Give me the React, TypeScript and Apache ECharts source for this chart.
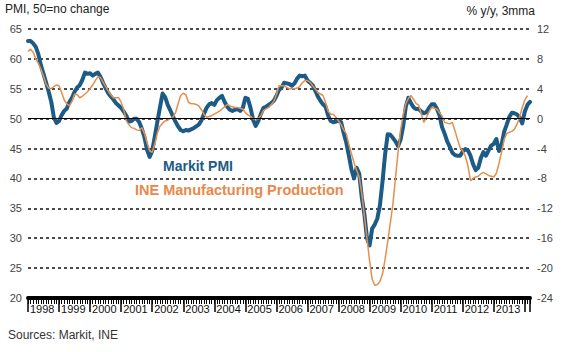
import React, { useEffect, useRef } from "react";
import * as echarts from "echarts";

const years = [1998, 1999, 2000, 2001, 2002, 2003, 2004, 2005, 2006, 2007, 2008, 2009, 2010, 2011, 2012, 2013, 2014];
const lastYearMonths = 3; // Jan-Mar 2014

const pmi = [
  63.0, 63.0, 62.6, 62.0, 60.8, 58.9, 57.5, 56.0, 54.5, 52.8, 50.2, 49.3,
  49.6, 50.6, 51.3, 51.7, 52.8, 53.5, 54.5, 55.2, 55.6, 56.5, 57.7, 57.5,
  57.6, 57.2, 57.5, 57.7, 57.0, 56.0, 55.1, 54.3, 53.7, 53.2, 52.6, 52.2,
  51.8, 51.2, 50.5, 49.5, 49.6, 50.0, 50.0, 49.4, 48.3, 46.9, 44.8, 43.6,
  44.6, 47.0, 49.5, 51.9, 54.2, 53.6, 52.3, 51.4, 50.4, 49.5, 48.7, 48.1,
  47.9, 48.1, 48.0, 48.2, 48.4, 48.7, 49.0, 49.7, 50.8, 51.8, 52.4, 52.6,
  52.3, 53.1, 53.5, 53.8, 52.8, 52.0, 51.5, 51.3, 51.5, 51.6, 51.3, 51.8,
  53.5, 53.3, 51.8, 49.8, 48.8, 49.6, 50.8, 51.8, 52.0, 52.3, 52.6, 53.0,
  53.8, 54.8, 55.2, 56.0, 55.9, 55.8, 55.5, 55.9, 56.7, 57.2, 57.1, 57.2,
  56.4, 56.0, 55.6, 54.7, 53.7, 53.0, 52.4, 52.0, 50.5, 49.6, 49.4, 49.5,
  49.7, 49.4, 47.6, 46.0, 43.8, 41.5, 40.0, 41.8, 40.8, 36.8, 34.0, 30.0,
  28.8, 31.6, 32.3, 33.3, 35.5, 39.5, 44.0, 47.4, 47.3, 46.8, 46.2, 45.4,
  46.5, 48.8, 52.0, 53.5, 52.6, 51.9, 51.6, 51.6, 51.2, 50.9, 51.1, 51.8,
  52.4, 52.4, 51.7, 50.6, 48.6, 47.5, 46.2, 45.3, 44.3, 43.9, 43.8, 43.8,
  44.5, 44.9, 44.7, 43.8, 42.4, 41.4, 41.8, 43.4, 44.4, 43.8, 44.7, 45.5,
  45.8, 46.6, 44.6, 45.6, 47.8, 49.0, 50.3, 51.0, 50.9, 50.7, 50.2, 49.2,
  51.2, 52.3, 52.8,
];

const ine = [
  9.0, 9.3, 8.9, 8.0, 7.4, 6.6, 5.7, 4.6, 4.1, 4.0, 4.3, 4.5,
  4.4, 3.5, 2.5, 2.0, 1.7, 2.3, 3.3, 3.2, 2.8, 3.0, 3.3, 3.6,
  4.0, 4.5, 5.1, 5.6, 5.5, 4.9, 4.3, 3.7, 3.2, 2.8, 2.8, 2.8,
  2.2, 1.2, -0.3, -0.8, -1.2, -1.3, -1.5, -1.6, -1.2, -2.0, -3.2, -4.3,
  -4.5, -3.4, -1.9, -1.0, -0.6, -0.3, -0.2, 0.0, 0.2, 0.8, 2.0, 3.1,
  3.4, 3.2, 2.2, 2.0, 2.0, 1.9, 1.7, 1.2, 0.6, 0.2, 0.3, 0.4,
  0.6, 0.8, 1.0, 1.3, 1.6, 1.9, 1.7, 1.6, 1.5, 1.5, 1.4, 1.3,
  0.8, 0.5, 0.3, 0.0, 0.0, 0.0, 0.4, 1.1, 1.3, 1.5, 1.9, 2.3,
  3.2, 4.4, 4.4, 4.4, 4.2, 4.0, 4.0, 4.0, 4.1, 4.3, 4.8, 5.1,
  5.1, 4.9, 4.4, 4.0, 3.5, 3.3, 3.1, 2.2, 1.0, 0.6, 0.6, 0.2,
  -0.3, -0.8, -1.5, -2.0, -3.4, -4.7, -5.9, -6.9, -7.8, -10.0, -13.0, -16.0,
  -19.0, -21.5, -22.3, -22.2, -21.8, -20.8, -18.8, -16.5, -14.0, -11.5, -8.0, -4.5,
  -1.5, 0.5, 2.0, 2.7, 3.1, 2.6, 2.0, 1.8, 0.6, -0.5, 0.2, 0.9,
  1.5, 1.4, 1.3, 0.8, 0.4, -0.5, -0.6, -0.7, -0.5, -1.6, -2.8, -3.9,
  -4.3, -5.0, -6.3, -8.3, -8.0, -7.8, -7.7, -7.4, -7.2, -7.4, -7.6, -7.7,
  -7.8, -7.3, -6.0, -4.5, -2.8, -2.0, -1.8, -1.7, -1.4, -0.7, 0.2, 1.5,
  2.5, 3.1, null,
];

const leftTicks = { min: 20, max: 65, interval: 5 };
const rightTicks = { min: -24, max: 12, interval: 4 };

const months: string[] = [];
years.forEach((y, yi) => {
  const n = yi === years.length - 1 ? lastYearMonths : 12;
  for (let m = 1; m <= n; m++) months.push(`${y}-${String(m).padStart(2, "0")}`);
});

const BLUE = "#1d5b87";
const ORANGE = "#e3904f";
const FONT = "Liberation Sans, Arial, sans-serif";

export default function App() {
  const ref = useRef<HTMLDivElement>(null);
  useEffect(() => {
    document.body.style.margin = "0";
    if (!ref.current) return;
    const chart = echarts.init(ref.current, null, { renderer: "svg" });
    const last = months.length - 1;
    chart.setOption({
      animation: false,
      textStyle: { fontFamily: FONT },
      grid: { left: 28, right: 36, top: 29, bottom: 54 },
      xAxis: [
        {
          type: "category",
          data: months,
          boundaryGap: false,
          axisLine: { onZero: false, lineStyle: { color: "#000", width: 4 } },
          axisTick: { show: true, interval: 0, length: 6, lineStyle: { color: "#000", width: 1 } },
          axisLabel: { show: false },
          splitLine: { show: false },
        },
        {
          type: "category",
          data: months,
          boundaryGap: false,
          position: "bottom",
          axisLine: { show: false, onZero: false },
          axisTick: {
            show: true,
            interval: (i: number) => i % 12 === 0 || i === last,
            length: 14,
            lineStyle: { color: "#000", width: 1.5 },
          },
          axisLabel: {
            interval: (i: number) => i % 12 === 0 && i + 12 <= last + 3,
            formatter: (v: string) => v.slice(0, 4),
            align: "left",
            margin: 5,
            padding: [0, 0, 0, 2],
            fontSize: 11,
            color: "#111",
            fontFamily: FONT,
          },
          splitLine: { show: false },
        },
      ],
      yAxis: [
        {
          type: "value",
          ...leftTicks,
          position: "left",
          axisLine: { show: false },
          axisTick: { show: false },
          axisLabel: { color: "#444", fontSize: 11, margin: 6, fontFamily: FONT },
          splitLine: { lineStyle: { type: [3, 3], color: "#111", width: 1.6 } },
        },
        {
          type: "value",
          ...rightTicks,
          position: "right",
          axisLine: { show: false },
          axisTick: { show: false },
          axisLabel: { color: "#444", fontSize: 11, margin: 7, fontFamily: FONT },
          splitLine: { show: false },
        },
      ],
      series: [
        {
          type: "line",
          name: "Markit PMI",
          data: pmi,
          xAxisIndex: 0,
          yAxisIndex: 0,
          symbol: "none",
          lineStyle: { width: 4, color: BLUE, join: "round", cap: "round" },
          markLine: {
            silent: true,
            symbol: "none",
            label: { show: false },
            lineStyle: { color: "#000", width: 1, type: "solid" },
            data: [{ yAxis: 50 }],
          },
          z: 2,
        },
        {
          type: "line",
          name: "INE Manufacturing Production",
          data: ine,
          xAxisIndex: 0,
          yAxisIndex: 1,
          symbol: "none",
          lineStyle: { width: 1.5, color: ORANGE },
          z: 3,
        },
      ],
      graphic: [
        { type: "text", left: 5, top: 3, style: { text: "PMI, 50=no change", font: `12px ${FONT}`, fill: "#222" } },
        { type: "text", right: 31, top: 5, style: { text: "% y/y, 3mma", font: `12px ${FONT}`, fill: "#222" } },
        { type: "text", left: 163, top: 159, style: { text: "Markit PMI", font: `bold 14px ${FONT}`, fill: BLUE } },
        { type: "text", left: 135, top: 182, style: { text: "INE Manufacturing Production", font: `bold 14.5px ${FONT}`, fill: "#e8894a" } },
        { type: "text", left: 8, top: 329, style: { text: "Sources: Markit, INE", font: `12px ${FONT}`, fill: "#333" } },
      ],
    });
    return () => chart.dispose();
  }, []);
  return <div ref={ref} style={{ width: 566, height: 352 }} />;
}
